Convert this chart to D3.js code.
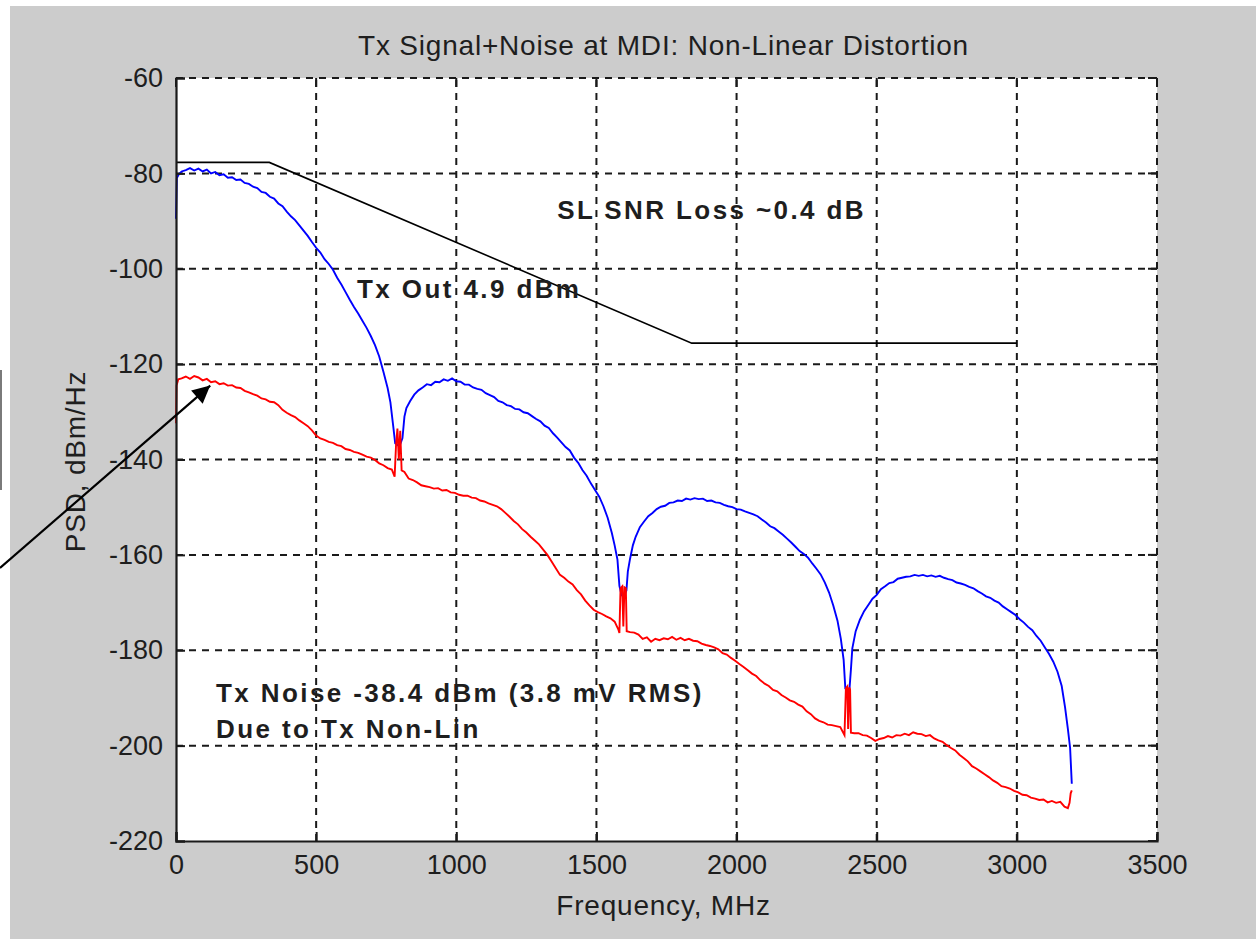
<!DOCTYPE html>
<html>
<head>
<meta charset="utf-8">
<script src="https://cdn.jsdelivr.net/npm/d3@7/dist/d3.min.js"></script>
<style>
  html, body { margin: 0; padding: 0; background: #ffffff; }
  svg { display: block; }
  text { font-family: "Liberation Sans", Arial, sans-serif; fill: #1e1e1e; }
</style>
</head>
<body>
<svg id="chart" width="1256" height="939"></svg>
<script>
// ---- Data -----------------------------------------------------------------
const titleText = "Tx Signal+Noise at MDI: Non-Linear Distortion";
const xLabel = "Frequency, MHz";
const yLabel = "PSD, dBm/Hz";

const xTicks = [0, 500, 1000, 1500, 2000, 2500, 3000, 3500];
const yTicks = [-220, -200, -180, -160, -140, -120, -100, -80, -60];

// Transmit signal PSD (blue), MHz / dBm/Hz
const signalFreq = [0,3,10,20,35,50,65,80,95,110,125,140,155,170,185,200,215,230,245,260,275,290,305,320,335,350,365,380,395,410,425,440,455,470,485,500,515,530,545,560,575,590,605,620,635,650,665,680,695,710,725,740,755,765,775,782,790,800,808,815,822,835,850,865,880,895,910,925,940,955,970,985,1000,1015,1030,1045,1060,1075,1090,1105,1120,1135,1150,1165,1180,1195,1210,1225,1240,1255,1270,1285,1300,1315,1330,1345,1360,1375,1390,1405,1420,1435,1450,1465,1480,1495,1510,1525,1540,1555,1565,1575,1582,1590,1600,1607,1612,1620,1630,1640,1655,1670,1685,1700,1715,1730,1745,1760,1775,1790,1805,1820,1835,1850,1865,1880,1895,1910,1925,1940,1955,1970,1985,2000,2015,2030,2045,2060,2075,2090,2105,2120,2135,2150,2165,2180,2195,2210,2225,2240,2255,2270,2285,2300,2315,2330,2345,2360,2372,2382,2388,2395,2403,2408,2413,2425,2440,2455,2470,2485,2500,2515,2530,2545,2560,2575,2590,2605,2620,2635,2650,2665,2680,2695,2710,2725,2740,2755,2770,2785,2800,2815,2830,2845,2860,2875,2890,2905,2920,2935,2950,2965,2980,2995,3010,3025,3040,3055,3070,3085,3100,3115,3130,3145,3160,3172,3182,3190,3196];
const signalDb = [-89.5,-81,-80.2,-79.6,-79.3,-78.9,-79.4,-79.0,-79.6,-79.2,-80.0,-79.7,-80.4,-80.2,-80.9,-80.8,-81.4,-81.3,-82.0,-82.2,-82.8,-83.1,-83.9,-84.1,-84.9,-85.3,-86.3,-86.9,-88.0,-89.0,-89.8,-90.9,-92.0,-93.1,-94.4,-95.6,-96.6,-98.0,-99.0,-100.2,-101.9,-103.3,-104.9,-106.5,-108.0,-109.4,-110.9,-112.4,-114.1,-116.0,-118.4,-121.6,-125.0,-128.0,-133.0,-136.6,-137.0,-136.8,-135.5,-131.0,-129.2,-127.8,-126.4,-125.5,-124.9,-124.2,-124.4,-123.7,-123.8,-123.2,-123.5,-123.0,-123.6,-123.7,-124.3,-124.3,-124.9,-125.2,-125.4,-126.1,-126.5,-126.9,-127.7,-128.0,-128.6,-128.8,-129.4,-129.5,-130.1,-130.3,-130.9,-131.5,-132.0,-132.9,-133.4,-134.5,-135.4,-136.4,-137.4,-138.1,-139.6,-140.7,-142.2,-143.4,-145.0,-146.4,-147.8,-149.8,-152.2,-155.4,-158.0,-161.0,-166.5,-168.5,-168.5,-167.5,-163.5,-160.8,-158.0,-156.2,-154.2,-153.0,-151.9,-151.2,-150.4,-149.9,-149.7,-149.1,-149.0,-148.6,-148.7,-148.2,-148.4,-148.1,-148.3,-148.2,-148.7,-148.6,-149.0,-149.1,-149.5,-149.8,-150.0,-150.4,-150.5,-150.9,-151.2,-151.5,-151.9,-152.6,-153.2,-154.0,-154.4,-155.1,-155.8,-156.6,-157.4,-158.3,-159.2,-159.8,-160.6,-161.8,-162.9,-164.1,-165.8,-167.9,-170.6,-173.8,-177.6,-182.0,-188.0,-188.2,-188.0,-184.0,-179.6,-176.0,-173.6,-171.8,-170.5,-169.2,-168.4,-167.2,-166.6,-165.9,-165.7,-165.0,-164.8,-164.6,-164.5,-164.2,-164.4,-164.2,-164.5,-164.3,-164.6,-164.4,-164.8,-165.1,-165.3,-165.8,-166.0,-166.3,-166.7,-167.0,-167.6,-168.1,-168.7,-169.0,-169.6,-170.0,-170.8,-171.4,-172.0,-172.6,-173.5,-174.2,-175.1,-175.8,-177.0,-178.0,-179.4,-180.8,-182.4,-184.5,-187.5,-192.0,-196.5,-200.5,-208.0];

// Transmit noise PSD from non-linearity (red)
const noiseFreq = [0,2,8,20,35,50,65,80,95,110,125,140,155,170,185,200,215,230,245,260,275,290,305,320,335,350,365,380,395,410,425,440,455,470,485,500,515,530,545,560,575,590,605,620,635,650,665,680,695,710,725,740,755,770,780,785,790,795,800,805,815,830,845,860,875,890,905,920,935,950,965,980,995,1010,1025,1040,1055,1070,1085,1100,1115,1130,1145,1160,1175,1190,1205,1220,1235,1250,1265,1280,1295,1310,1325,1340,1355,1370,1385,1400,1415,1430,1445,1460,1475,1490,1505,1520,1535,1550,1565,1578,1582,1586,1592,1596,1600,1605,1608,1620,1635,1650,1665,1680,1695,1710,1725,1740,1755,1770,1785,1800,1815,1830,1845,1860,1875,1890,1905,1920,1935,1950,1965,1980,1995,2010,2025,2040,2055,2070,2085,2100,2115,2130,2145,2160,2175,2190,2205,2220,2235,2250,2265,2280,2295,2310,2325,2340,2355,2370,2385,2390,2395,2398,2402,2405,2408,2420,2435,2450,2465,2480,2495,2510,2525,2540,2555,2570,2585,2600,2615,2630,2645,2660,2675,2690,2705,2720,2735,2750,2765,2780,2795,2810,2825,2840,2855,2870,2885,2900,2915,2930,2945,2960,2975,2990,3005,3020,3035,3050,3065,3080,3095,3110,3125,3140,3155,3170,3182,3188,3192,3196];
const noiseDb = [-132.4,-124.5,-123.2,-123.0,-122.6,-123.1,-122.5,-122.8,-123.4,-123.1,-123.8,-123.6,-124.2,-124.0,-124.5,-124.4,-124.9,-125.0,-125.6,-125.9,-126.3,-126.6,-127.2,-127.4,-127.9,-128.0,-128.6,-129.6,-130.2,-130.7,-131.1,-131.8,-132.4,-133.0,-133.9,-135.0,-135.6,-135.9,-136.3,-136.5,-137.0,-137.2,-137.8,-138.0,-138.4,-138.6,-139.0,-139.4,-139.6,-140.1,-140.8,-141.2,-141.8,-142.1,-143.6,-137.0,-133.5,-140.0,-134.0,-142.3,-142.6,-144.0,-144.3,-144.8,-145.4,-145.6,-145.8,-146.1,-146.0,-146.5,-146.4,-146.9,-147.0,-147.4,-147.6,-147.6,-148.0,-148.1,-148.6,-148.8,-149.2,-149.5,-149.8,-150.4,-151.2,-152.0,-152.9,-153.6,-154.6,-155.3,-156.2,-157.0,-157.8,-158.9,-160.0,-161.4,-162.8,-164.2,-164.8,-165.6,-166.2,-167.4,-168.3,-169.6,-170.6,-171.5,-172.0,-172.4,-172.9,-173.3,-174.0,-175.6,-176.4,-167.0,-166.6,-175.0,-166.8,-167.0,-176.0,-176.2,-176.3,-176.7,-177.6,-177.3,-178.2,-177.6,-177.9,-177.5,-177.7,-177.2,-177.8,-177.4,-177.9,-177.6,-178.0,-178.1,-178.6,-178.9,-179.1,-179.4,-179.8,-180.6,-180.9,-181.6,-182.2,-182.9,-183.5,-184.2,-184.9,-185.4,-186.3,-187.0,-187.5,-188.3,-188.6,-189.4,-189.9,-190.5,-190.8,-191.4,-191.8,-192.8,-193.4,-194.3,-194.8,-195.1,-195.6,-195.7,-195.9,-196.1,-197.8,-188.0,-187.6,-196.5,-187.8,-188.2,-197.3,-197.4,-197.4,-197.8,-197.9,-198.4,-199.0,-198.6,-198.4,-198.0,-198.3,-197.8,-197.9,-197.5,-197.8,-197.2,-197.5,-197.6,-198.0,-197.8,-198.5,-198.9,-199.2,-199.9,-200.5,-201.0,-201.9,-202.6,-203.3,-204.3,-204.8,-205.4,-206.0,-206.6,-207.3,-207.8,-208.5,-208.7,-209.0,-209.5,-209.8,-210.3,-210.4,-210.9,-211.1,-211.4,-211.3,-211.9,-211.6,-212.0,-211.8,-212.8,-213.1,-212.0,-210.0,-209.4];

// SNR-loss mask (black)
const maskFreq = [0, 333, 1840, 3000];
const maskDb = [-77.7, -77.7, -115.6, -115.6];

// Annotations
const noteMask = "SL SNR Loss ~0.4 dB";
const noteSignal = "Tx Out 4.9 dBm";
const noteNoise1 = "Tx Noise -38.4 dBm (3.8 mV RMS)";
const noteNoise2 = "Due to Tx Non-Lin";

// ---- Layout -----------------------------------------------------------------
const svg = d3.select("#chart");
const plot = { left: 176, right: 1157, top: 78, bottom: 841 };

const x = d3.scaleLinear().domain([0, 3500]).range([plot.left, plot.right]);
const y = d3.scaleLinear().domain([-220, -60]).range([plot.bottom, plot.top]);

// figure background
svg.append("rect").attr("x", 10).attr("y", 6).attr("width", 1246).attr("height", 933)
  .attr("fill", "#cccccc");
// plot area
svg.append("rect").attr("x", plot.left).attr("y", plot.top)
  .attr("width", plot.right - plot.left).attr("height", plot.bottom - plot.top)
  .attr("fill", "#ffffff");

// ---- Grid (dashed) ----------------------------------------------------------
const grid = svg.append("g").attr("stroke", "#1a1a1a").attr("stroke-width", 2)
  .attr("stroke-dasharray", "7,6").attr("fill", "none");
grid.selectAll("line.gx").data(xTicks.slice(1)).join("line")
  .attr("x1", d => x(d)).attr("x2", d => x(d))
  .attr("y1", plot.bottom).attr("y2", plot.top);
grid.selectAll("line.gy").data(yTicks.slice(1)).join("line")
  .attr("x1", plot.left).attr("x2", plot.right)
  .attr("y1", d => y(d)).attr("y2", d => y(d));

// ---- Curves -----------------------------------------------------------------
const line = d3.line().x(d => x(d[0])).y(d => y(d[1]));
const signalPts = d3.zip(signalFreq, signalDb);
const noisePts = d3.zip(noiseFreq, noiseDb);
const maskPts = d3.zip(maskFreq, maskDb);

svg.append("path").datum(maskPts).attr("d", line)
  .attr("fill", "none").attr("stroke", "#000000").attr("stroke-width", 1.6);
svg.append("path").datum(signalPts).attr("d", line)
  .attr("fill", "none").attr("stroke", "#0000ff").attr("stroke-width", 1.9)
  .attr("stroke-linejoin", "miter");
svg.append("path").datum(noisePts).attr("d", line)
  .attr("fill", "none").attr("stroke", "#ff0000").attr("stroke-width", 1.9)
  .attr("stroke-linejoin", "miter");

// ---- Axes -------------------------------------------------------------------
const xAxis = d3.axisBottom(x).tickValues(xTicks).tickSize(-9).tickPadding(14)
  .tickFormat(d3.format("d"));
const yAxis = d3.axisLeft(y).tickValues(yTicks).tickSize(-9).tickPadding(13)
  .tickFormat(d3.format("d"));

const gx = svg.append("g").attr("transform", `translate(0,${plot.bottom})`).call(xAxis);
const gy = svg.append("g").attr("transform", `translate(${plot.left},0)`).call(yAxis);
[gx, gy].forEach(g => {
  g.select(".domain").attr("stroke", "#1a1a1a").attr("stroke-width", 2.2);
  g.selectAll(".tick line").attr("stroke", "#1a1a1a").attr("stroke-width", 2);
  g.selectAll(".tick text").attr("font-size", 27)
    .attr("font-family", "'Liberation Sans', Arial, sans-serif").attr("fill", "#1e1e1e");
});
gx.selectAll(".tick text").attr("dy", "0.71em");
// minus sign as plain hyphen
gy.selectAll(".tick text").text(d => String(d));

// inward ticks on the top and right edges
const tk = svg.append("g").attr("stroke", "#1a1a1a").attr("stroke-width", 2);
tk.selectAll("line.tt").data(xTicks).join("line")
  .attr("x1", d => x(d)).attr("x2", d => x(d))
  .attr("y1", plot.top).attr("y2", plot.top + 9);
tk.selectAll("line.tr").data(yTicks).join("line")
  .attr("x1", plot.right).attr("x2", plot.right - 9)
  .attr("y1", d => y(d)).attr("y2", d => y(d));

// ---- Titles -----------------------------------------------------------------
const labels = svg.append("g").attr("font-size", 28).attr("letter-spacing", "0.8px");
labels.append("text").attr("x", (plot.left + plot.right) / 2 - 3).attr("y", 55)
  .attr("text-anchor", "middle").text(titleText);
labels.append("text").attr("x", (plot.left + plot.right) / 2 - 3).attr("y", 915)
  .attr("text-anchor", "middle").text(xLabel);
labels.append("text").attr("transform", `translate(85,${(plot.top + plot.bottom) / 2 + 2}) rotate(-90)`)
  .attr("text-anchor", "middle").text(yLabel);

// ---- Annotations ------------------------------------------------------------
const notes = svg.append("g").attr("font-size", 26).attr("font-weight", "bold")
  .attr("letter-spacing", "2.4px");
notes.append("text").attr("x", x(1360)).attr("y", y(-89.6)).attr("fill", "#000").text(noteMask);
notes.append("text").attr("x", x(646)).attr("y", y(-106.1)).attr("fill", "#000").text(noteSignal);
notes.append("text").attr("x", x(143)).attr("y", y(-190.9)).attr("fill", "#000").text(noteNoise1);
notes.append("text").attr("x", x(143)).attr("y", y(-198.4)).attr("fill", "#000").text(noteNoise2);

// left margin marker and arrow pointing at the noise curve
svg.append("line").attr("x1", 1).attr("x2", 1).attr("y1", 370).attr("y2", 490)
  .attr("stroke", "#7a7a7a").attr("stroke-width", 2);

const defs = svg.append("defs");
defs.append("marker").attr("id", "head").attr("viewBox", "0 0 10 10")
  .attr("refX", 10).attr("refY", 5).attr("markerWidth", 11).attr("markerHeight", 8)
  .attr("markerUnits", "strokeWidth").attr("orient", "auto")
  .append("path").attr("d", "M0,0 L10,5 L0,10 Z").attr("fill", "#000");
svg.append("line").attr("x1", 0).attr("y1", 568).attr("x2", x(122)).attr("y2", y(-124.5))
  .attr("stroke", "#000").attr("stroke-width", 2.2).attr("marker-end", "url(#head)");
</script>
</body>
</html>
